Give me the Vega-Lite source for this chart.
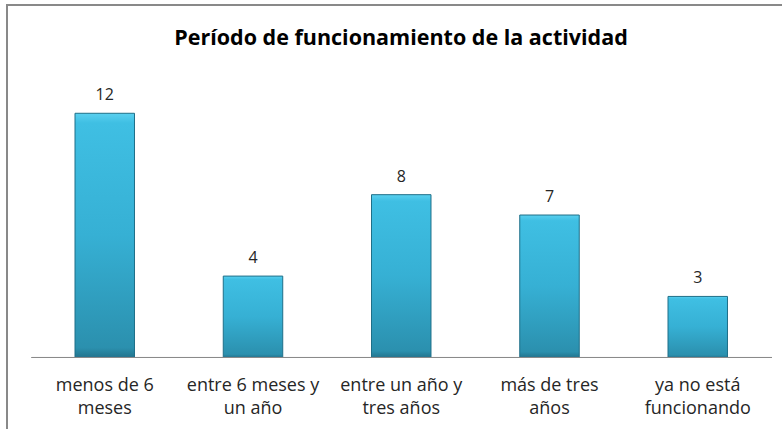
{
  "$schema": "https://vega.github.io/schema/vega-lite/v6.json",
  "autosize": "none",
  "padding": {"left": 7, "top": 5, "right": 0, "bottom": 0},
  "width": 800,
  "height": 440,
  "background": "white",
  "title": {
    "text": "Período de funcionamiento de la actividad",
    "font": "Open Sans",
    "fontSize": 21.5,
    "fontWeight": "bold",
    "color": "#000000",
    "anchor": "middle",
    "baseline": "top",
    "offset": -44,
    "dx": -6
  },
  "data": {
    "values": [
      {"periodo": "menos de 6 meses", "n": 12},
      {"periodo": "entre 6 meses y un año", "n": 4},
      {"periodo": "entre un año y tres años", "n": 8},
      {"periodo": "más de tres años", "n": 7},
      {"periodo": "ya no está funcionando", "n": 3}
    ]
  },
  "encoding": {
    "x": {
      "field": "periodo",
      "type": "nominal",
      "sort": null,
      "scale": {"paddingInner": 0.5987, "paddingOuter": 0.4975, "align": 0.461},
      "axis": {
        "title": null,
        "domain": false,
        "ticks": false,
        "labelPadding": 0,
        "offset": -69,
        "labelAngle": 0,
        "labelFont": "Open Sans",
        "labelFontSize": 18,
        "labelColor": "#262626",
        "labelBaseline": "top",
        "labelLineHeight": 23.5,
        "labelLimit": 200,
        "labelExpr": "datum.value == 'menos de 6 meses' ? ['menos de 6', 'meses'] : datum.value == 'entre 6 meses y un año' ? ['entre 6 meses y', 'un año'] : datum.value == 'entre un año y tres años' ? ['entre un año y', 'tres años'] : datum.value == 'más de tres años' ? ['más de tres', 'años'] : ['ya no está', 'funcionando']"
      }
    }
  },
  "layer": [
    {
      "mark": {
        "type": "bar",
        "stroke": "#1f6f88",
        "strokeWidth": 1,
        "color": {
          "gradient": "linear",
          "x1": 0, "y1": 0, "x2": 0, "y2": 1,
          "stops": [
            {"offset": 0, "color": "#5ad0ef"},
            {"offset": 0.04, "color": "#3fbfe3"},
            {"offset": 0.5, "color": "#36b0d4"},
            {"offset": 0.96, "color": "#2b90ae"},
            {"offset": 1, "color": "#22748d"}
          ]
        }
      },
      "encoding": {
        "y": {
          "field": "n",
          "type": "quantitative",
          "scale": {"domain": [-4.3, 17.32], "nice": false, "zero": false},
          "axis": null
        }
      }
    },
    {
      "mark": {
        "type": "text",
        "font": "Open Sans",
        "fontSize": 16,
        "color": "#262626",
        "baseline": "alphabetic",
        "dy": -13
      },
      "encoding": {
        "y": {"field": "n", "type": "quantitative"},
        "text": {"field": "n", "type": "quantitative"}
      }
    },
    {
      "mark": {
        "type": "rule",
        "color": "#8a8a8a",
        "strokeWidth": 1,
        "xOffset": -43.3,
        "x2Offset": 44.5
      },
      "encoding": {
        "x": {"datum": "menos de 6 meses", "bandPosition": 0},
        "x2": {"datum": "ya no está funcionando", "bandPosition": 1},
        "y": {"datum": 0}
      }
    }
  ],
  "config": {
    "view": {"stroke": "#898989", "strokeWidth": 2}
  }
}
